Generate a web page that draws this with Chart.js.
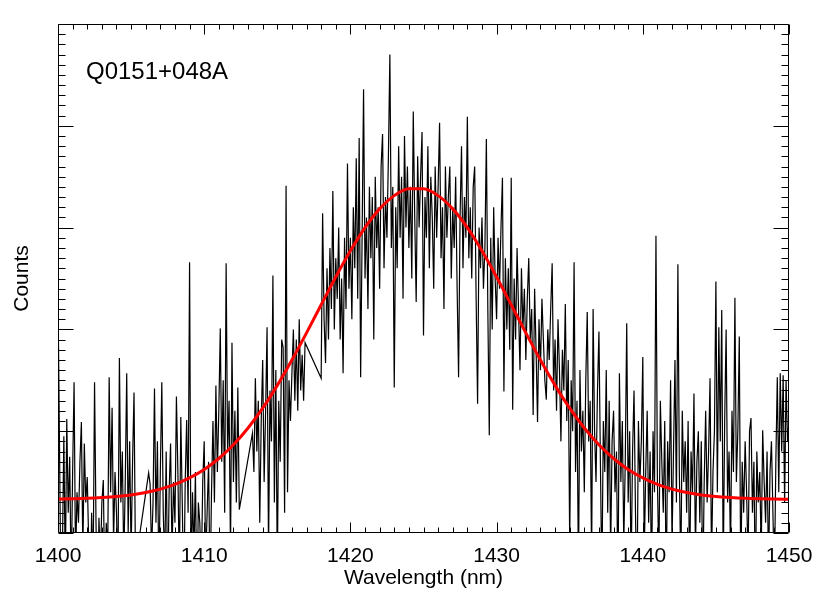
<!DOCTYPE html>
<html>
<head>
<meta charset="utf-8">
<script src="https://cdn.jsdelivr.net/npm/chart.js@4.4.1/dist/chart.umd.min.js"></script>
<style>
  html, body { margin: 0; padding: 0; background: #fff; }
  #wrap { width: 830px; height: 593px; }
</style>
</head>
<body>
<div id="wrap"><canvas id="spectrum" width="830" height="593"></canvas></div>
<script>
// ===== Data =====
const titleText = 'Q0151+048A';
const xMajorTicks = [1400, 1410, 1420, 1430, 1440, 1450];
const yMajorTicks = [0, 1, 2, 3, 4, 5];

// observed spectrum (wavelength in nm, counts in arbitrary units)
const wavelength = [
  1400.0,1400.1,1400.2,1400.3,1400.4,1400.5,1400.6,1400.7,1400.8,1400.9,
  1401.0,1401.1,1401.2,1401.3,1401.4,1401.5,1401.6,1401.7,1401.8,1401.9,
  1402.0,1402.1,1402.2,1402.3,1402.4,1402.5,1402.6,1402.7,1402.8,1402.9,
  1403.0,1403.1,1403.2,1403.3,1403.4,1403.5,1403.6,1403.7,1403.8,1403.9,
  1404.0,1404.1,1404.2,1404.3,1404.4,1404.5,1404.6,1404.7,1404.8,1404.9,
  1405.0,1405.1,1405.2,1405.3,
  1406.2,1406.3,1406.4,1406.5,1406.6,1406.7,1406.8,1406.9,
  1407.0,1407.1,1407.2,1407.3,1407.4,1407.5,1407.6,1407.7,1407.8,1407.9,
  1408.0,1408.1,1408.2,1408.3,1408.4,1408.5,1408.6,1408.7,1408.8,1408.9,
  1409.0,1409.1,1409.2,1409.3,1409.4,1409.5,1409.6,1409.7,1409.8,1409.9,
  1410.0,1410.1,1410.2,1410.3,1410.4,1410.5,1410.6,1410.7,1410.8,1410.9,
  1411.0,1411.1,1411.2,1411.3,1411.4,1411.5,1411.6,1411.7,1411.8,1411.9,
  1412.0,1412.1,1412.2,1412.3,1412.4,
  1413.3,1413.4,1413.5,1413.6,1413.7,1413.8,1413.9,
  1414.0,1414.1,1414.2,1414.3,1414.4,1414.5,1414.6,1414.7,1414.8,1414.9,
  1415.0,1415.1,1415.2,1415.3,1415.4,1415.5,1415.6,1415.7,1415.8,1415.9,
  1416.0,1416.1,1416.2,1416.3,1416.4,1416.5,1416.6,1416.7,1416.8,1416.9,
  1418.0,1418.1,1418.2,1418.3,1418.4,1418.5,1418.6,1418.7,1418.8,1418.9,
  1419.0,1419.1,1419.2,1419.3,1419.4,1419.5,1419.6,1419.7,1419.8,1419.9,
  1420.0,1420.1,1420.2,1420.3,1420.4,1420.5,1420.6,1420.7,1420.8,1420.9,
  1421.0,1421.1,1421.2,1421.3,1421.4,1421.5,1421.6,1421.7,1421.8,1421.9,
  1422.0,1422.1,1422.2,1422.3,1422.4,1422.5,1422.6,1422.7,1422.8,1422.9,
  1423.0,1423.1,1423.2,1423.3,1423.4,1423.5,1423.6,1423.7,1423.8,1423.9,
  1424.0,1424.1,1424.2,1424.3,1424.4,1424.5,1424.6,1424.7,1424.8,1424.9,
  1425.0,1425.1,1425.2,1425.3,1425.4,1425.5,1425.6,1425.7,1425.8,1425.9,
  1426.0,1426.1,1426.2,1426.3,1426.4,1426.5,1426.6,1426.7,1426.8,1426.9,
  1427.0,1427.1,1427.2,1427.3,1427.4,1427.5,1427.6,1427.7,1427.8,1427.9,
  1428.0,1428.1,1428.2,1428.3,1428.4,1428.5,1428.6,1428.7,1428.8,1428.9,
  1429.0,1429.1,1429.2,1429.3,1429.4,1429.5,1429.6,1429.7,1429.8,1429.9,
  1430.0,1430.1,1430.2,1430.3,1430.4,1430.5,1430.6,1430.7,1430.8,1430.9,
  1431.0,1431.1,1431.2,1431.3,1431.4,1431.5,1431.6,1431.7,1431.8,1431.9,
  1432.0,1432.1,1432.2,1432.3,1432.4,1432.5,1432.6,1432.7,1432.8,1432.9,
  1433.0,1433.1,1433.2,1433.3,1433.4,1433.5,1433.6,1433.7,1433.8,1433.9,
  1434.0,1434.1,1434.2,1434.3,1434.4,1434.5,1434.6,1434.7,1434.8,1434.9,
  1435.0,1435.1,1435.2,1435.3,1435.4,1435.5,1435.6,1435.7,1435.8,1435.9,
  1436.0,1436.1,1436.2,1436.3,1436.4,1436.5,1436.6,1436.7,1436.8,1436.9,
  1437.0,1437.1,1437.2,1437.3,1437.4,1437.5,1437.6,1437.7,1437.8,1437.9,
  1438.0,1438.1,1438.2,1438.3,1438.4,1438.5,1438.6,1438.7,1438.8,1438.9,
  1439.0,1439.1,1439.2,1439.3,1439.4,1439.5,1439.6,1439.7,1439.8,1439.9,
  1440.0,1440.1,1440.2,1440.3,1440.4,1440.5,1440.6,1440.7,1440.8,1440.9,
  1441.0,1441.1,1441.2,1441.3,1441.4,1441.5,1441.6,1441.7,1441.8,1441.9,
  1442.0,1442.1,1442.2,1442.3,1442.4,1442.5,1442.6,1442.7,1442.8,1442.9,
  1443.0,1443.1,1443.2,1443.3,1443.4,1443.5,1443.6,1443.7,1443.8,1443.9,
  1444.0,1444.1,1444.2,1444.3,1444.4,1444.5,1444.6,1444.7,1444.8,1444.9,
  1445.0,1445.1,1445.2,1445.3,1445.4,1445.5,1445.6,1445.7,1445.8,1445.9,
  1446.0,1446.1,1446.2,1446.3,1446.4,1446.5,1446.6,1446.7,1446.8,1446.9,
  1447.0,1447.1,1447.2,1447.3,1447.4,1447.5,1447.6,1447.7,1447.8,1447.9,
  1448.0,1448.1,1448.2,1448.3,1448.4,1448.5,1448.6,1448.7,1448.8,1448.9,
  1449.0,1449.1,1449.2,1449.3,1449.4,1449.5,1449.6,1449.7,1449.8,1449.9,
  1450.0
];

const counts = [
  2.32,0.9,-0.6,-0.2,0.95,-0.4,1.12,0.2,0.75,-0.5,
  0.6,1.48,-0.3,0.4,0.1,0.7,1.09,-0.2,0.88,0.3,
  0.55,-0.1,-0.8,0.2,-0.4,1.48,0.1,-0.9,0.15,-0.3,
  0.3,0.52,-0.6,0.1,-0.2,1.53,0.4,1.23,-0.1,0.6,
  0.2,-0.4,1.72,0.3,0.8,-0.3,0.5,1.57,0.0,0.9,
  -0.2,0.7,1.38,-0.3,
  0.59,0.48,-0.2,0.3,1.42,0.1,0.9,-0.5,
  0.6,1.48,0.2,-0.3,0.8,-0.6,0.4,0.88,-0.2,0.5,
  0.1,1.34,0.6,-0.4,1.14,0.3,-0.7,0.5,1.11,0.2,
  2.66,-0.5,0.4,-0.2,0.6,-0.8,0.3,0.1,-0.4,0.5,
  0.9,-0.3,0.2,0.7,-0.6,0.4,1.1,0.3,1.45,0.6,
  1.2,2.01,0.7,1.5,0.2,2.65,0.8,1.3,-0.2,1.87,
  0.5,1.2,0.3,1.43,0.23,
  0.98,0.6,1.52,0.8,1.3,0.1,1.1,
  1.7,0.5,1.2,2.02,-0.2,1.4,0.9,2.53,0.3,1.6,
  -0.4,1.3,0.7,1.9,1.82,0.2,3.41,0.4,1.5,1.1,
  1.57,2.0,1.3,1.9,1.2,2.1,1.4,1.75,1.3,1.87,
  1.52,3.14,2.1,1.67,2.6,1.9,2.8,2.2,3.36,2.0,
  2.7,2.3,3.0,1.9,2.5,1.57,2.9,2.2,3.63,2.4,
  2.9,2.1,3.2,2.6,3.68,2.3,3.88,1.53,2.9,4.36,
  2.5,3.1,2.2,3.4,2.7,3.3,1.9,3.5,2.8,3.2,
  2.4,3.6,3.92,2.6,3.3,2.9,3.7,4.70,2.8,3.4,
  1.43,3.2,2.6,3.8,2.9,3.5,2.3,3.9,3.0,3.6,
  2.8,3.4,2.5,4.14,3.1,2.27,3.7,3.0,3.5,3.94,
  1.94,3.3,2.9,3.8,2.6,3.5,3.1,2.4,3.6,2.9,
  3.4,4.03,2.7,3.2,2.2,3.6,2.9,3.3,3.6,2.5,
  3.2,2.8,3.5,2.4,1.53,3.1,3.8,2.6,3.3,2.9,
  4.09,2.7,3.2,2.5,3.4,3.6,2.3,1.27,3.0,2.6,
  3.1,2.4,2.8,3.87,2.2,0.96,2.9,2.0,3.2,2.5,
  2.1,2.9,2.4,3.0,3.49,1.39,2.7,2.0,2.6,1.8,
  3.49,1.21,2.5,1.9,2.8,2.2,1.6,2.6,2.0,2.4,
  1.7,2.3,2.7,1.9,2.2,1.16,2.4,1.8,1.09,2.1,
  1.6,2.3,1.9,1.5,1.31,2.0,1.7,2.2,2.65,1.4,
  1.9,1.2,2.1,1.6,0.9,1.8,1.4,2.25,1.1,1.7,
  -0.1,1.5,1.0,2.66,0.6,1.3,-0.4,1.6,0.8,1.2,
  0.4,1.5,2.17,0.9,1.3,-0.3,2.2,1.0,0.5,1.4,
  1.98,0.7,-0.5,1.1,0.6,1.6,0.2,1.3,-0.2,0.9,
  1.2,0.4,0.8,-0.6,1.57,0.5,1.1,-0.1,0.7,2.06,
  0.3,1.0,-0.4,0.8,1.4,0.2,-0.7,1.1,0.5,0.9,
  1.73,-0.2,0.6,1.2,0.1,0.8,-0.5,1.0,0.4,2.92,
  0.5,-0.3,1.3,0.7,0.2,1.1,-0.6,0.9,0.4,1.5,
  -0.1,0.8,1.7,0.3,2.64,0.6,-0.4,1.2,0.5,0.9,
  0.2,1.1,-0.5,0.8,0.4,1.37,-0.2,0.7,1.0,0.1,
  0.9,-0.6,0.5,1.2,0.3,0.8,1.52,-0.3,0.6,1.0,
  2.47,0.4,2.02,0.9,2.19,-0.4,1.1,2.0,0.3,0.8,
  -0.2,1.2,0.6,2.31,0.5,1.0,1.93,-0.5,0.7,0.2,
  0.9,0.4,-0.3,1.0,1.13,0.2,0.7,-0.6,0.8,0.3,
  0.6,-0.2,1.01,0.5,0.1,0.8,-0.4,0.6,0.9,0.2,
  -0.5,0.7,1.53,0.4,1.57,0.8,1.55,0.3,1.50,0.9,
  1.1
];

// gaussian fit, read at every nm
const fitWavelength = [
  1400,1401,1402,1403,1404,1405,1406,1407,1408,1409,
  1410,1411,1412,1413,1414,1415,1416,1417,1418,1419,
  1420,1421,1422,1423,1424,1425,1426,1427,1428,1429,
  1430,1431,1432,1433,1434,1435,1436,1437,1438,1439,
  1440,1441,1442,1443,1444,1445,1446,1447,1448,1449,
  1450
];
const fitCounts = [
  0.334,0.337,0.341,0.348,0.358,0.374,0.398,0.431,0.478,0.541,
  0.624,0.732,0.867,1.032,1.226,1.450,1.699,1.966,2.242,2.515,
  2.772,3.000,3.184,3.314,3.381,3.381,3.314,3.184,3.000,2.772,
  2.515,2.242,1.966,1.699,1.450,1.226,1.032,0.867,0.732,0.624,
  0.541,0.478,0.431,0.398,0.374,0.358,0.348,0.341,0.337,0.334,
  0.332
];

const FONT = '"Liberation Sans", Arial, Helvetica, sans-serif';

// ===== Frame with inward ticks (IDL style) =====
const axisFrame = {
    id: 'axisFrame',
    afterDatasetsDraw(chart) {
        const ctx = chart.ctx;
        const a = chart.chartArea;
        const xs = chart.scales.x;
        const ys = chart.scales.y;
        const left = Math.round(a.left) + 0.5;
        const right = Math.round(a.right) - 0.5;
        const top = Math.round(a.top) + 0.5;
        const bottom = Math.round(a.bottom) - 0.5;

        ctx.save();
        ctx.strokeStyle = '#000';
        ctx.lineWidth = 1;
        ctx.beginPath();
        ctx.rect(left, top, right - left, bottom - top);

        // x ticks every 1 nm, major every 10
        for (let i = 0; i <= 50; i++) {
            const px = Math.round(xs.getPixelForValue(xs.min + i)) + 0.5;
            const len = i % 10 === 0 ? 10 : 5;
            ctx.moveTo(px, bottom); ctx.lineTo(px, bottom - len);
            ctx.moveTo(px, top); ctx.lineTo(px, top + len);
        }
        // y ticks every 0.1, major every 1
        for (let i = 0; i <= 50; i++) {
            const py = Math.round(ys.getPixelForValue(ys.min + i / 10)) + 0.5;
            const len = i % 10 === 0 ? 15 : 7;
            ctx.moveTo(left, py); ctx.lineTo(left + len, py);
            ctx.moveTo(right, py); ctx.lineTo(right - len, py);
        }
        ctx.stroke();

        // object name inside the plot
        ctx.fillStyle = '#000';
        ctx.font = '24px ' + FONT;
        ctx.textBaseline = 'alphabetic';
        ctx.fillText(titleText, 86, 79);
        ctx.restore();
    }
};

new Chart(document.getElementById('spectrum'), {
    type: 'line',
    data: {
        datasets: [{
            label: 'spectrum',
            data: wavelength.map((w, i) => ({ x: w, y: counts[i] })),
            borderColor: '#000',
            borderWidth: 1.2,
            pointRadius: 0,
            tension: 0,
            clip: 0,
            order: 2
        }, {
            label: 'fit',
            data: fitWavelength.map((w, i) => ({ x: w, y: fitCounts[i] })),
            borderColor: '#ff0000',
            borderWidth: 3,
            pointRadius: 0,
            cubicInterpolationMode: 'monotone',
            clip: 0,
            order: 1
        }]
    },
    options: {
        responsive: false,
        animation: false,
        events: [],
        layout: { padding: { top: 24, right: 41, left: 0, bottom: 0 } },
        plugins: {
            legend: { display: false },
            tooltip: { enabled: false }
        },
        scales: {
            x: {
                type: 'linear',
                min: 1400,
                max: 1450,
                afterFit: s => { s.height = 60; },
                afterBuildTicks: s => { s.ticks = xMajorTicks.map(v => ({ value: v })); },
                grid: { display: false, drawTicks: false },
                border: { display: false },
                ticks: {
                    color: '#000',
                    padding: 11,
                    maxRotation: 0,
                    callback: v => String(v),
                    font: { size: 21, family: FONT }
                },
                title: {
                    display: true,
                    text: 'Wavelength (nm)',
                    color: '#000',
                    font: { size: 21, family: FONT },
                    padding: { top: 0, bottom: 2 }
                }
            },
            y: {
                min: 0,
                max: 5,
                afterFit: s => { s.width = 58; },
                afterBuildTicks: s => { s.ticks = yMajorTicks.map(v => ({ value: v })); },
                grid: { display: false, drawTicks: false },
                border: { display: false },
                ticks: { display: false },
                title: {
                    display: true,
                    text: 'Counts',
                    color: '#000',
                    font: { size: 21, family: FONT },
                    padding: { top: 10, bottom: 0 }
                }
            }
        }
    },
    plugins: [axisFrame]
});
</script>
</body>
</html>
